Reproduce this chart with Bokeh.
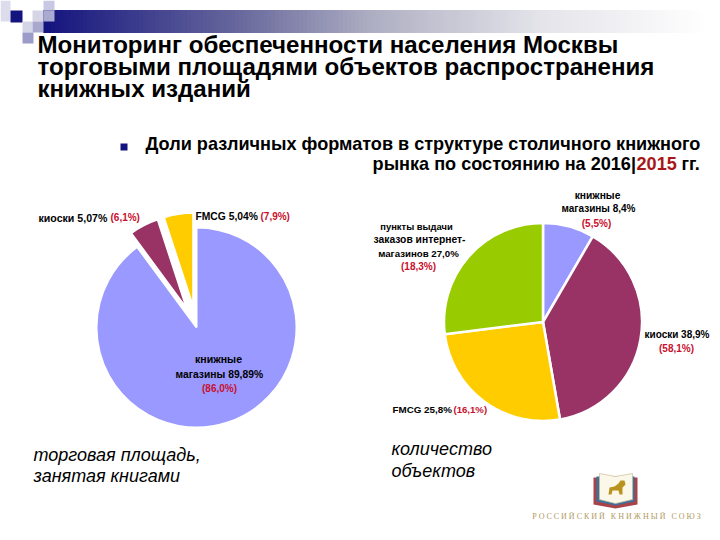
from bokeh.plotting import figure
from bokeh.core.properties import value
from bokeh.embed import file_html
from bokeh.resources import INLINE
import numpy as np

# left pie: share of the trading area taken by books
area_labels = ["книжные магазины", "киоски", "FMCG"]
area_2016 = [89.89, 5.07, 5.04]
area_2015 = [86.0, 6.1, 7.9]
area_colors = ["#9999ff", "#993366", "#ffcc00"]

# right pie: number of outlets
count_labels = ["книжные магазины", "киоски", "FMCG", "пункты выдачи заказов интернет-магазинов"]
count_2016 = [8.4, 38.9, 25.8, 27.0]
count_2015 = [5.5, 58.1, 16.1, 18.3]
count_colors = ["#9999ff", "#993366", "#ffcc00", "#99cc00"]

title_lines = ["Мониторинг обеспеченности населения Москвы",
               "торговыми площадями объектов распространения",
               "книжных изданий"]

RED = "#c8102e"
NAVY = "#14147f"
FONT = "Liberation Sans"
SERIF = "Liberation Serif"

p = figure(width=720, height=540, x_range=(0, 720), y_range=(0, 540),
           x_axis_location=None, y_axis_location=None,
           toolbar_location=None, output_backend="svg", min_border=0)
p.grid.visible = False
p.outline_line_color = None


def Y(v):
    return 540 - v


def label(x, y, txt, size, color="black", style="bold", align="left", font=FONT):
    # svg text sits lower than the baseline asked for, so lift it by about a third of its size
    p.text([x], [Y(y - 0.37 * size)], text=[txt], text_font=value(font), text_font_size=f"{size}px",
           text_font_style=style, text_color=color, text_align=align,
           text_baseline="alphabetic")


def pie(cx, cy, r, values, colors, explode=None, gap=2):
    vals = np.array(values, dtype=float)
    edges = np.concatenate([[0], np.cumsum(vals) / vals.sum() * 2 * np.pi])
    for i, c in enumerate(colors):
        sx, sy, rr = cx, cy, r
        if explode and explode[i]:
            mid = (edges[i] + edges[i + 1]) / 2
            sx = cx + explode[i] * np.sin(mid)
            sy = cy - explode[i] * np.cos(mid)
            rr = r - 6
        p.wedge(x=[sx], y=[Y(sy)], radius=rr,
                start_angle=np.pi / 2 - edges[i], end_angle=np.pi / 2 - edges[i + 1],
                direction="clock", fill_color=c, line_color="white", line_width=gap)


# header band fading to white
band_x = np.arange(43, 704, 4)
stops = [0, 0.3, 0.5, 0.75, 1]
r_ = np.interp((band_x - 43) / 660, stops, [0x14, 0x6a, 0xb0, 0xe4, 0xff])
g_ = np.interp((band_x - 43) / 660, stops, [0x14, 0x6a, 0xb0, 0xe4, 0xff])
b_ = np.interp((band_x - 43) / 660, stops, [0x7f, 0x9e, 0xc4, 0xea, 0xff])
band_colors = ["#%02x%02x%02x" % (int(a), int(b), int(c)) for a, b, c in zip(r_, g_, b_)]
p.quad(left=band_x, right=band_x + 4, top=Y(10), bottom=Y(32),
       fill_color=band_colors, line_color=band_colors)

# corner squares
sq_left = [0, 10, 32, 43, 43, 22, 32, 22]
sq_right = [10, 22, 43, 54, 54, 32, 43, 33]
sq_top = [0, 10, 10, 0, 10, 21, 21, 32]
sq_bottom = [21, 22, 21, 10, 21, 32, 32, 43]
sq_colors = ["#dcdcec", NAVY, "#d5d5e5", "#c8c8e4", "#a9a9d2", "#d5d5e8", "#a9a9cf", "#9c9cc9"]
p.quad(left=sq_left, right=sq_right, top=[Y(v) for v in sq_top], bottom=[Y(v) for v in sq_bottom],
       fill_color=sq_colors, line_color=None)

for line, base in zip(title_lines, [53, 75, 97]):
    label(37, base, line, 24.1)

p.quad(left=[120], right=[127], top=[Y(143)], bottom=[Y(150)], fill_color=NAVY, line_color=None)
label(145, 150, "Доли различных форматов в структуре столичного книжного", 18.1)
label(635.5, 170, "рынка по состоянию на 2016|", 18.1, align="right")
label(636, 170, "2015", 18.1, color="#a81818")
label(681, 170, "гг.", 18.1)

pie(196, 327, 100, area_2016, area_colors, explode=[0, 21, 21])
pie(542.5, 321.5, 99, count_2016, count_colors, gap=2.5)

# left pie labels
label(38, 221, "киоски 5,07%", 10.6)
label(110, 221, "(6,1%)", 10, color=RED)
label(195, 220, "FMCG 5,04%", 10.3)
label(260, 220, "(7,9%)", 10, color=RED)
label(218, 362, "книжные", 10.6, align="center")
label(175, 378, "магазины 89,89%", 10.3)
label(219, 392, "(86,0%)", 10, color=RED, align="center")

# right pie labels
label(597, 199, "книжные", 10.3, align="center")
label(598, 212, "магазины 8,4%", 10, align="center")
label(596, 227, "(5,5%)", 10, color=RED, align="center")
label(416, 229, "пункты выдачи", 9.4, align="center")
label(419, 243, "заказов интернет-", 10.3, align="center")
label(418, 257, "магазинов 27,0%", 9.7, align="center")
label(418, 270, "(18,3%)", 10, color=RED, align="center")
label(644, 338, "киоски 38,9%", 10)
label(676, 352, "(58,1%)", 10, color=RED, align="center")
label(392, 413, "FMCG 25,8%", 9.8)
label(453, 413, "(16,1%)", 9.6, color=RED)

label(33, 461, "торговая площадь,", 18, style="italic")
label(33, 482, "занятая книгами", 18, style="italic")
label(391, 455, "количество", 18, style="italic")
label(391, 477, "объектов", 18, style="italic")

# union logo
p.patch([593, 593, 615, 637, 637], [Y(v) for v in [477, 504, 508, 504, 477]],
        fill_color="#a8434a", line_color=None)
p.patch([596, 596, 615, 634, 634], [Y(v) for v in [476, 501, 505, 501, 476]],
        fill_color="#3f6f9a", line_color=None)
p.patch([599, 599, 615, 632, 632, 615], [Y(v) for v in [473, 499, 503, 499, 473, 476]],
        fill_color="#fbf8ea", line_color="#c9bf95", line_width=0.7)
p.patch([608, 609, 614, 618, 620, 624, 625, 622, 622, 619, 618, 612, 611],
        [Y(v) for v in [494, 487, 486, 483, 480, 480, 484, 487, 494, 494, 490, 490, 494]],
        fill_color="#b8931f", line_color=None)
label(616, 519, "Р О С С И Й С К И Й\u00a0\u00a0\u00a0К Н И Ж Н Ы Й\u00a0\u00a0\u00a0С О Ю З", 8,
      color="#b09a60", style="normal", align="center", font=SERIF)

open("out.html", "w").write(file_html(p, INLINE))
